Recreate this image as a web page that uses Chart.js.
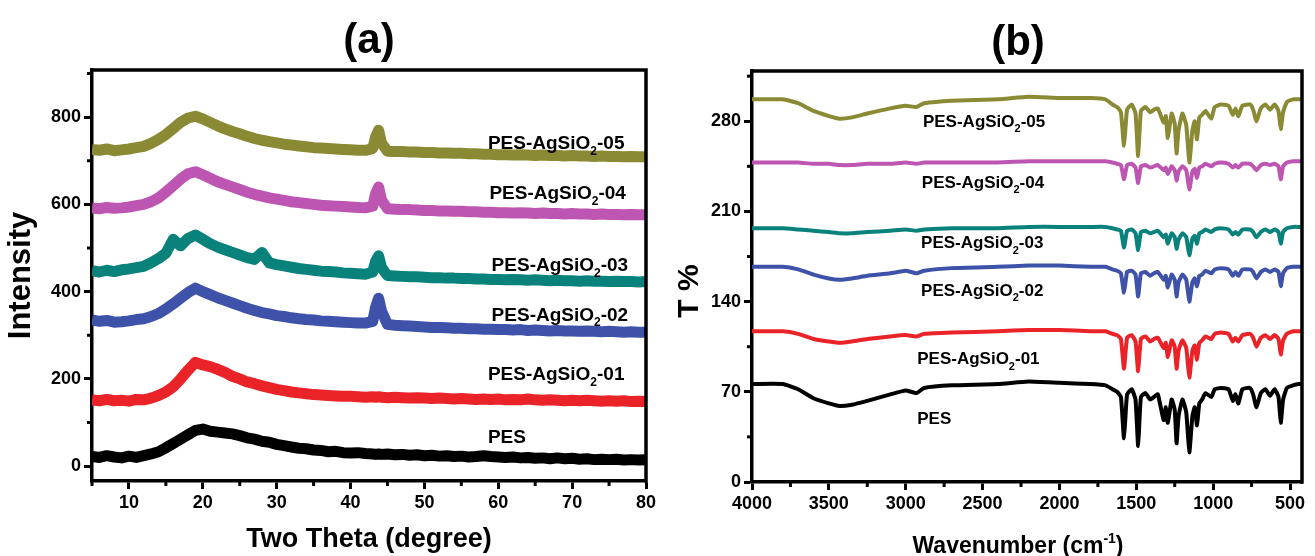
<!DOCTYPE html>
<html><head><meta charset="utf-8">
<script src="https://cdn.jsdelivr.net/npm/chart.js@4.4.1/dist/chart.umd.min.js"></script>
<style>
html,body{margin:0;padding:0;background:#fff;}
#wrap{position:relative;width:1315px;height:556px;overflow:hidden;}
#ca{position:absolute;left:0;top:0;}
#cb{position:absolute;left:660px;top:0;}
</style></head><body>
<div id="wrap"><canvas id="ca" width="660" height="556"></canvas><canvas id="cb" width="655" height="556"></canvas></div>
<script>
// ---------- Panel (a): XRD ----------
const xrdTheta = [5,6,7,8,9,10,11,12,13,14,15,16,17,18,19,20,21,22,23,24,25,26,27,28,29,30,31,32,33,34,35,36,37,38,39,40,41,42,43,43.4,43.8,44.2,45,46,47,48,49,50,51,52,53,54,55,56,57,58,59,60,61,62,63,64,65,66,67,68,69,70,71,72,73,74,75,76,77,78,79,80];
const xrdPES = [22,20,24,21,19,23,20,24,28,33,42,52,62,72,82,85,80,78,76,74,70,65,62,57,55,50,47,44,41,40,37,36,33,34,31,30,31,29,28,27,28,27,28,26,27,25,26,24,25,23,24,22,23,21,22,24,22,21,20,21,19,20,18,19,17,19,17,18,16,17,15,16,15,16,14,15,14,15];
const xrd01 = [152,150,153,150,151,149,153,152,156,162,170,182,200,220,238,232,228,222,215,206,200,193,189,184,180,176,173,170,168,166,164,163,162,161,160,160,159,158,159,158,159,158,157,158,157,156,157,156,155,156,155,154,155,154,153,154,153,154,152,153,152,154,152,151,152,151,150,151,150,151,150,149,150,149,150,148,149,148];
const xrd02 = [335,332,334,330,331,333,336,338,343,350,360,372,385,398,408,400,393,386,380,374,368,362,357,352,349,345,343,340,338,336,335,333,332,331,330,329,328,328,332,365,385,355,325,323,322,321,320,319,318,318,317,316,316,315,315,314,314,313,313,312,313,311,312,311,310,311,310,310,309,310,309,308,309,308,307,308,307,307];
const xrd03 = [448,445,449,446,450,452,455,458,466,476,488,520,505,522,530,520,510,502,496,490,484,478,474,490,466,462,459,456,453,451,449,447,446,445,443,442,441,440,445,470,482,455,437,436,435,434,434,433,432,432,431,431,430,430,429,429,428,428,427,428,427,426,427,426,425,426,425,425,424,425,424,424,423,424,423,423,422,423];
const xrd04 = [592,590,593,591,592,594,597,600,606,615,628,643,658,670,675,668,660,652,646,640,634,628,623,619,615,612,609,606,604,602,600,598,597,596,595,594,593,592,596,625,640,610,590,589,588,588,587,586,586,585,585,584,584,583,583,582,582,581,581,580,581,580,579,580,579,579,578,579,578,578,577,578,577,577,576,577,576,576];
const xrd05 = [726,724,727,723,725,727,730,733,740,749,760,774,788,798,802,796,788,780,773,767,762,756,751,747,744,741,738,736,734,732,730,729,728,727,726,725,724,724,728,755,770,740,722,721,721,720,720,719,719,718,718,717,717,716,716,715,715,714,714,713,714,713,712,713,712,712,711,712,711,711,710,711,710,710,709,710,709,709];
const xTicksA = [10,20,30,40,50,60,70,80];
const xMinorA = [5,15,25,35,45,55,65,75];
const yTicksA = [0,200,400,600,800];
const yMinorA = [100,300,500,700,900];
const labelSuffix = ['-05','-04','-03','-02','-01',''];
const labelAx = [58.6,58.8,59.1,59.1,58.6,58.6];
const labelAy = [743,628,463,349,213,69];

// ---------- Panel (b): FTIR ----------
const wavenumber = [4000,3800,3700,3600,3500,3430,3350,3250,3100,3000,2930,2880,2700,2400,2200,2000,1800,1700,1655,1625,1600,1580,1560,1530,1505,1488,1470,1440,1410,1385,1360,1322,1308,1295,1270,1250,1238,1225,1200,1175,1155,1135,1120,1105,1090,1072,1050,1012,990,950,900,872,855,836,810,760,740,718,690,660,630,600,575,560,545,520,480,440,420];
const irPES = [76,76,72,65,61,59,60,63,68,71,69,73,75,76,78,77,76,75,72,70,66,34,68,72,64,28,66,69,64,66,68,48,58,46,64,56,30,51,64,54,23,51,58,44,61,64,69,66,72,73,72,63,68,61,72,73,68,58,69,72,67,72,66,46,64,73,75,76,76];
const ir01 = [117,117,115,111,109,108,109,111,113,114,113,115,116,117,118,118,117,117,115,114,111,88,112,114,109,86,111,113,109,111,112,104,108,97,110,105,88,102,110,104,81,102,106,95,108,110,113,111,115,116,115,109,112,109,114,115,112,105,112,114,111,114,111,99,110,115,117,117,117];
const ir02 = [167,167,165,161,158,157,158,160,162,164,162,164,166,167,168,168,167,167,165,164,162,147,163,164,161,144,162,163,160,162,163,157,160,151,161,157,144,155,161,157,140,155,158,152,160,161,164,162,165,166,165,160,163,160,165,165,163,158,163,165,163,165,163,152,162,166,167,167,167];
const ir03 = [197,197,196,195,194,193,193,194,195,196,195,196,197,197,198,198,198,198,197,196,195,182,195,196,193,180,194,195,193,194,195,190,192,185,193,190,181,188,193,190,176,189,191,185,193,194,196,194,196,197,196,192,194,192,196,196,194,190,194,196,194,196,194,185,194,197,198,198,198];
const ir04 = [248,248,248,247,247,246,246,247,247,248,247,248,248,248,249,249,249,249,248,247,246,235,246,247,244,232,245,246,244,245,246,242,244,239,245,242,234,241,245,242,227,241,243,236,244,245,247,245,247,248,247,244,246,244,247,247,245,242,246,247,246,247,245,235,245,248,249,249,249];
const ir05 = [297,297,294,288,284,282,283,286,290,292,291,294,296,297,299,298,298,297,293,291,287,261,289,293,286,253,288,291,287,289,290,279,284,267,286,278,255,273,286,277,248,273,280,266,283,285,288,282,291,293,292,285,290,284,292,293,289,280,290,293,289,293,288,274,287,295,297,297,297];
const xTicksB = [4000,3500,3000,2500,2000,1500,1000,500];
const xMinorB = [3750,3250,2750,2250,1750,1250,750];
const yTicksB = [0,70,140,210,280];
const yMinorB = [35,105,175,245,315];
const labelBx = [2888,2895,2900,2900,2925,2925];
const labelBy = [280,233,186,149,96,50];

const seriesColors = ['#8a8a35','#bd55b3','#0a827c','#3d52a8','#ea2329','#000000'];
const F = '"Liberation Sans", Arial, Helvetica, sans-serif';

function richParts(suffix){
  return suffix ? [['PES-AgSiO','n'],['2','sub'],[suffix,'n']] : [['PES','n']];
}
function drawRich(ctx, x, yc, parts, size){
  ctx.save();
  ctx.fillStyle = '#000'; ctx.textAlign = 'left'; ctx.textBaseline = 'alphabetic';
  const base = yc + size*0.36;
  let cx = x;
  for (const [t,k] of parts){
    const fs = k === 'n' ? size : Math.round(size*0.62);
    ctx.font = 'bold ' + fs + 'px ' + F;
    const dy = k === 'sub' ? size*0.3 : (k === 'sup' ? -size*0.45 : 0);
    ctx.fillText(t, cx, base + dy);
    cx += ctx.measureText(t).width;
  }
  ctx.restore();
}

const framePlugin = {
  id: 'frame',
  afterDraw(chart, args, o){
    const {ctx, chartArea: a, scales} = chart;
    ctx.save();
    ctx.strokeStyle = '#000'; ctx.lineWidth = 3.5; ctx.lineCap = 'square';
    ctx.beginPath(); ctx.moveTo(a.left, a.top); ctx.lineTo(a.right, a.top); ctx.lineTo(a.right, a.bottom); ctx.stroke();
    ctx.lineWidth = 3; ctx.lineCap = 'butt';
    for (const v of o.minorX){ const p = scales.x.getPixelForValue(v); ctx.beginPath(); ctx.moveTo(p, a.bottom); ctx.lineTo(p, a.bottom + 5); ctx.stroke(); }
    for (const v of o.minorY){ const p = scales.y.getPixelForValue(v); ctx.beginPath(); ctx.moveTo(a.left, p); ctx.lineTo(a.left - 5, p); ctx.stroke(); }
    for (let i = 0; i < o.labelX.length; i++){
      drawRich(ctx, scales.x.getPixelForValue(o.labelX[i]), scales.y.getPixelForValue(o.labelY[i]), richParts(labelSuffix[i]), o.labelSize);
    }
    ctx.fillStyle = '#000'; ctx.font = 'bold ' + o.titleSize + 'px ' + F;
    ctx.textAlign = 'center'; ctx.textBaseline = 'middle';
    ctx.fillText(o.title, (a.left + a.right)/2 + (o.titleDx||0), o.titleY);
    if (o.yTitle){
      ctx.save();
      ctx.translate(o.yTitleX, o.yTitleY); ctx.rotate(-Math.PI/2);
      ctx.font = 'bold ' + o.yTitleSize + 'px ' + F;
      ctx.fillText(o.yTitle, 0, 0);
      ctx.restore();
    }
    if (o.xTitleParts){
      let w = 0;
      for (const [t,k] of o.xTitleParts){ ctx.font = 'bold ' + (k==='n'?o.xTitleSize:Math.round(o.xTitleSize*0.62)) + 'px ' + F; w += ctx.measureText(t).width; }
      drawRich(ctx, (a.left + a.right)/2 + (o.xTitleDx||0) - w/2, o.xTitleY, o.xTitleParts, o.xTitleSize);
    }
    ctx.restore();
  }
};

function axisCommon(ticks){
  return {
    afterBuildTicks: s => { s.ticks = ticks.map(v => ({value: v})); },
    grid: {display: true, drawOnChartArea: false, drawTicks: true, tickLength: 8, tickWidth: 3, tickColor: '#000'},
    border: {display: true, color: '#000', width: 3.5},
    ticks: {font: {family: F, size: 18, weight: 'bold'}, color: '#000', padding: 3, autoSkip: false, maxRotation: 0, callback: v => String(v)}
  };
}

const names = ['PES-AgSiO2-05','PES-AgSiO2-04','PES-AgSiO2-03','PES-AgSiO2-02','PES-AgSiO2-01','PES'];

// Chart (a)
const xrdSeries = [xrd05, xrd04, xrd03, xrd02, xrd01, xrdPES];
new Chart(document.getElementById('ca'), {
  type: 'line',
  data: {datasets: xrdSeries.map((s, i) => ({
    label: names[i], data: s.map((v, j) => ({x: xrdTheta[j], y: v})),
    borderColor: seriesColors[i], borderWidth: 11, pointRadius: 0, tension: 0, borderJoinStyle: 'round', clip: 0
  }))},
  options: {
    responsive: false, animation: false, devicePixelRatio: 1,
    layout: {padding: {left: 0, top: 70, right: 14, bottom: 0}},
    plugins: {legend: {display: false}, tooltip: {enabled: false},
      frame: {minorX: xMinorA, minorY: yMinorA, labelX: labelAx, labelY: labelAy, labelSize: 19, title: '(a)', titleSize: 42, titleY: 41}},
    scales: {
      x: Object.assign(axisCommon(xTicksA), {type: 'linear', min: 5, max: 80,
        title: {display: true, text: 'Two Theta (degree)', color: '#000', font: {family: F, size: 27, weight: 'bold'}, padding: {top: 0, bottom: 0}},
        afterFit: s => { s.height = 75; }}),
      y: Object.assign(axisCommon(yTicksA), {type: 'linear', min: -34, max: 908,
        title: {display: true, text: 'Intensity', color: '#000', font: {family: F, size: 31, weight: 'bold'}, padding: {top: 3, bottom: 0}},
        afterFit: s => { s.width = 92; }})
    }
  },
  plugins: [framePlugin]
});

// Chart (b)
const irSeries = [ir05, ir04, ir03, ir02, ir01, irPES];
new Chart(document.getElementById('cb'), {
  type: 'line',
  data: {datasets: irSeries.map((s, i) => ({
    label: names[i], data: s.map((v, j) => ({x: wavenumber[j], y: v})),
    borderColor: seriesColors[i], borderWidth: 4, pointRadius: 0, tension: 0.15, borderJoinStyle: 'round', clip: 0
  }))},
  options: {
    responsive: false, animation: false, devicePixelRatio: 1,
    layout: {padding: {left: 0, top: 71, right: 13, bottom: 0}},
    plugins: {legend: {display: false}, tooltip: {enabled: false},
      frame: {minorX: xMinorB, minorY: yMinorB, labelX: labelBx, labelY: labelBy, labelSize: 17, title: '(b)', titleSize: 42, titleY: 43, titleDx: -9,
        yTitle: 'T %', yTitleX: 30, yTitleY: 291, yTitleSize: 30,
        xTitleParts: [['Wavenumber (cm','n'],['-1','sup'],[')','n']], xTitleSize: 23, xTitleY: 545, xTitleDx: -9}},
    scales: {
      x: Object.assign(axisCommon(xTicksB), {type: 'linear', min: 422, max: 4000, reverse: true,
        afterFit: s => { s.height = 74; }}),
      y: Object.assign(axisCommon(yTicksB), {type: 'linear', min: 0, max: 319,
        afterFit: s => { s.width = 92; }})
    }
  },
  plugins: [framePlugin]
});
</script>
</body></html>
